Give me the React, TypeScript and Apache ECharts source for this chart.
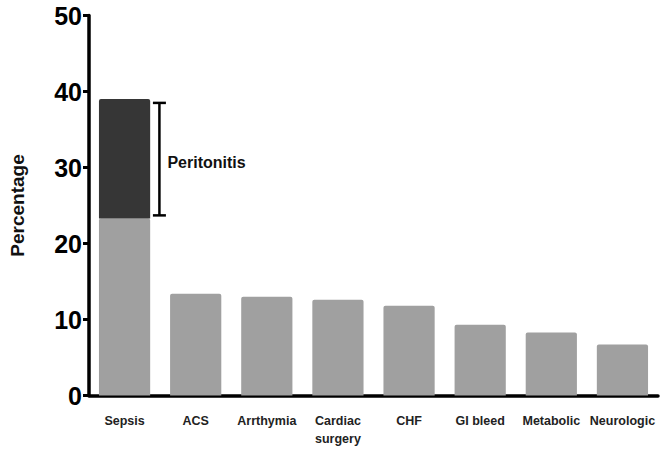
import React, { useEffect, useRef } from "react";
import * as echarts from "echarts";

const categories = ["Sepsis", "ACS", "Arrthymia", "Cardiac\nsurgery", "CHF", "GI bleed", "Metabolic", "Neurologic"];
const baseValues = [23.3, 13.4, 13.0, 12.6, 11.8, 9.3, 8.3, 6.7];
const peritonitisValues: (number | string)[] = [15.7, "-", "-", "-", "-", "-", "-", "-"];
const bracketData = [[0, 23.7, 38.5]];
const bracketLabel = "Peritonitis";
const yTicks = { min: 0, max: 50, interval: 10 };

export default function App() {
  const ref = useRef<HTMLDivElement>(null);
  useEffect(() => {
    const chart = echarts.init(ref.current!, null, { renderer: "svg" });
    const font = "'Liberation Sans', Arial, sans-serif";
    chart.setOption({
      animation: false,
      grid: { left: 89, right: 11, top: 15.5, bottom: 60.5, containLabel: false },
      xAxis: {
        type: "category",
        data: categories,
        axisLine: { lineStyle: { color: "#000", width: 3.5 } },
        axisTick: { alignWithLabel: true, length: 6, lineStyle: { color: "#000", width: 3 } },
        axisLabel: { color: "#222", fontSize: 12.5, fontWeight: "bold", fontFamily: font, margin: 16, interval: 0, lineHeight: 18 },
      },
      yAxis: {
        type: "value",
        min: yTicks.min,
        max: yTicks.max,
        interval: yTicks.interval,
        name: "Percentage",
        nameLocation: "middle",
        nameGap: 62,
        nameTextStyle: { color: "#111", fontSize: 19, fontFamily: font, fontWeight: "bold" },
        axisLine: { show: true, lineStyle: { color: "#000", width: 3.5 } },
        axisTick: { show: true, length: 6, lineStyle: { color: "#000", width: 3 } },
        splitLine: { show: false },
        axisLabel: { color: "#000", fontSize: 25, fontWeight: "bold", fontFamily: font, margin: 7 },
      },
      series: [
        {
          type: "bar",
          stack: "total",
          data: baseValues,
          barWidth: "72%",
          itemStyle: { color: "#a0a0a0", borderRadius: [2, 2, 0, 0] },
        },
        {
          type: "bar",
          stack: "total",
          data: peritonitisValues,
          barWidth: "72%",
          itemStyle: { color: "#363636", borderRadius: [2, 2, 0, 0] },
        },
        {
          type: "custom",
          data: bracketData,
          z: 5,
          renderItem: (params: any, api: any) => {
            const c = api.coord([api.value(0), api.value(1)]);
            const t = api.coord([api.value(0), api.value(2)]);
            const band = api.size([1, 0])[0];
            const x = c[0] + band * 0.49;
            const cap = 6.5;
            const style = { stroke: "#000", lineWidth: 2.5 };
            return {
              type: "group",
              children: [
                { type: "line", shape: { x1: x, y1: c[1], x2: x, y2: t[1] }, style },
                { type: "line", shape: { x1: x - cap, y1: c[1], x2: x + cap, y2: c[1] }, style },
                { type: "line", shape: { x1: x - cap, y1: t[1], x2: x + cap, y2: t[1] }, style },
                {
                  type: "text",
                  x: x + 8,
                  y: (c[1] + t[1]) / 2 + 3,
                  style: { text: bracketLabel, fill: "#111", font: `bold 16px ${font}`, verticalAlign: "middle", align: "left" },
                },
              ],
            };
          },
        },
      ],
    });
    return () => chart.dispose();
  }, []);
  return <div ref={ref} style={{ width: 669, height: 456, position: "absolute", left: 0, top: 0, background: "#fff" }} />;
}
